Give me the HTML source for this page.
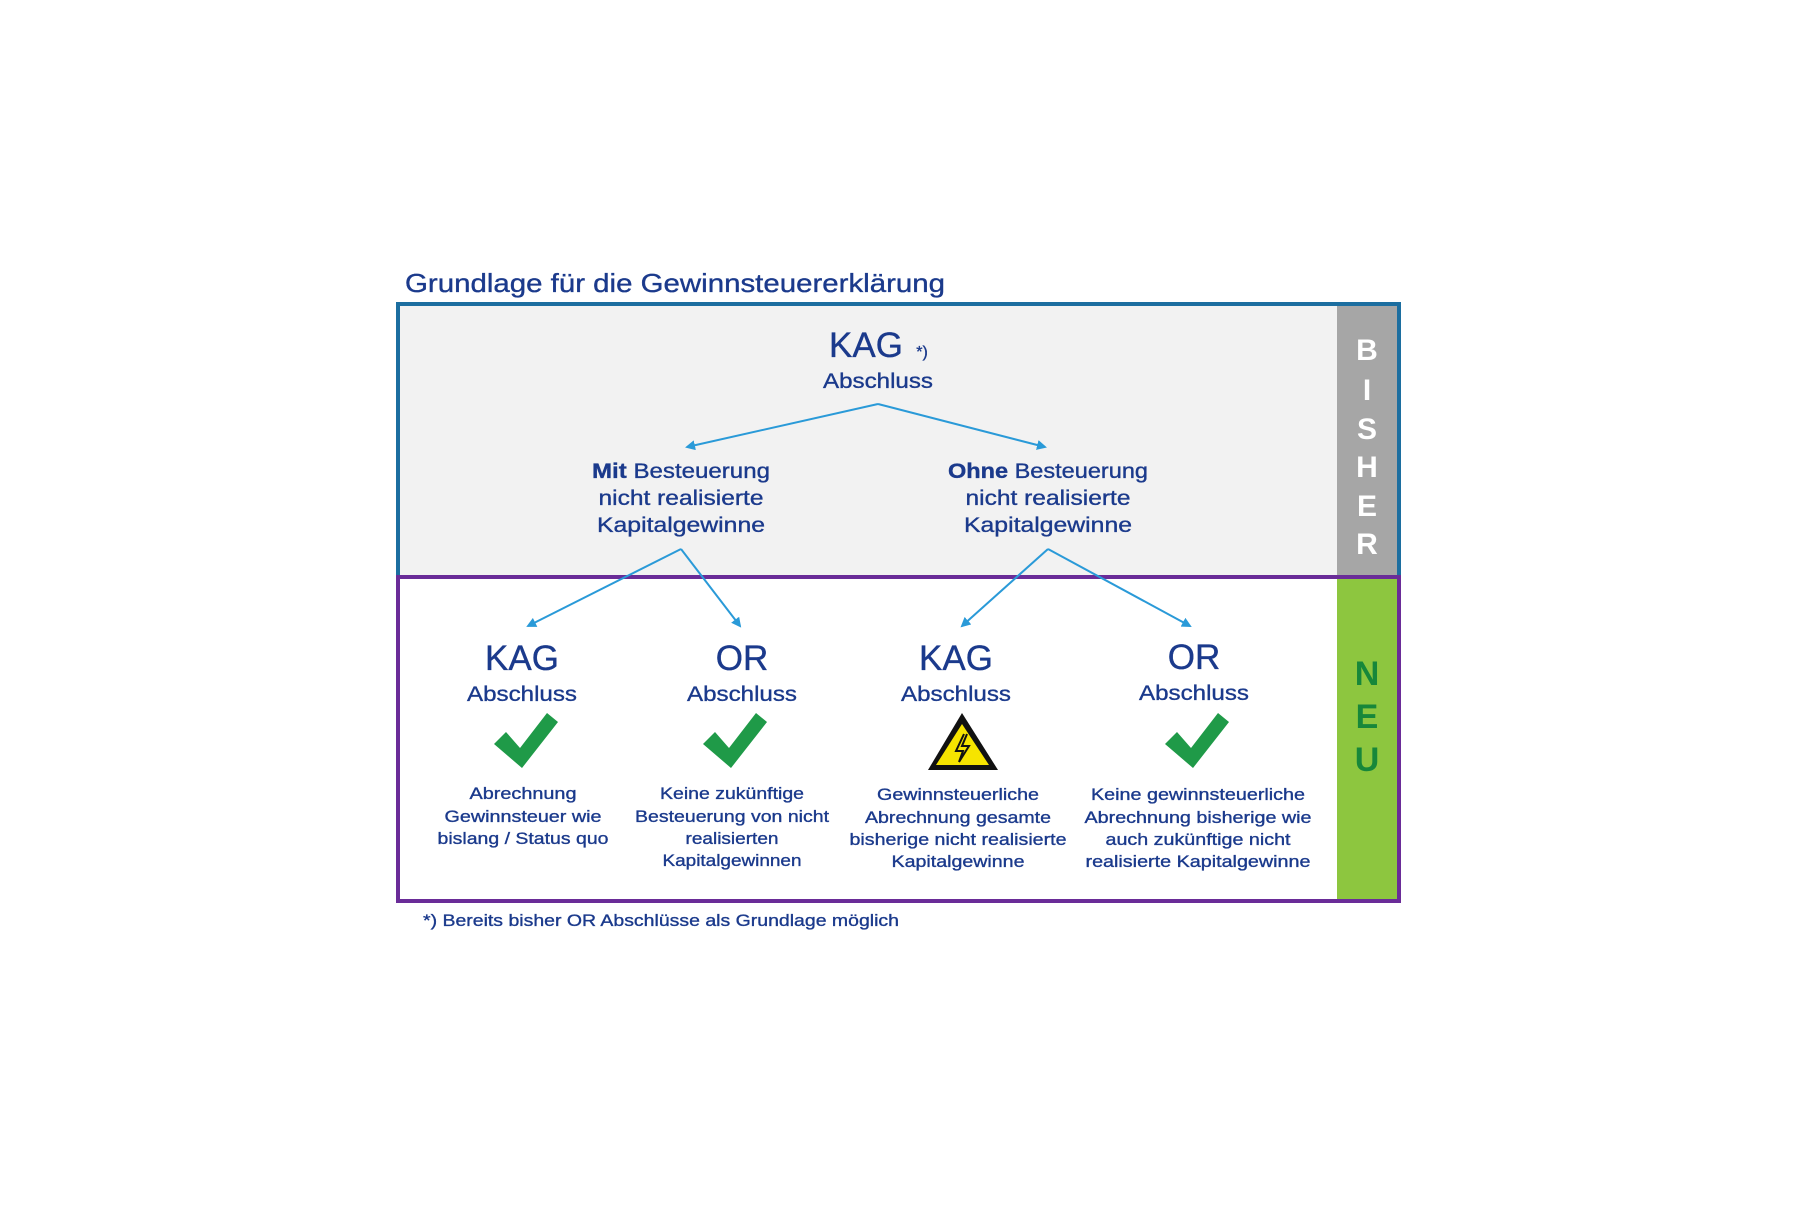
<!DOCTYPE html>
<html><head><meta charset="utf-8"><style>
html,body{margin:0;padding:0;background:#fff;}
svg text{font-family:"Liberation Sans",sans-serif;fill:#1b3a8c;stroke:#1b3a8c;stroke-width:0.35;}
</style></head><body>
<svg width="1800" height="1200" viewBox="0 0 1800 1200" xmlns="http://www.w3.org/2000/svg">
<defs>
<marker id="a" markerWidth="10" markerHeight="10" refX="8" refY="5" orient="auto" markerUnits="userSpaceOnUse">
<path d="M0,0 L10,5 L0,10 z" fill="#2a9ad8"/></marker>
</defs>
<text x="405" y="292" font-size="26" textLength="540" lengthAdjust="spacingAndGlyphs">Grundlage für die Gewinnsteuererklärung</text>
<rect x="398" y="304" width="1000" height="272" fill="#f2f2f2"/>
<rect x="1337" y="304" width="61" height="272" fill="#a6a6a6"/>
<rect x="1337" y="578" width="61" height="321" fill="#8dc63f"/>
<path d="M398,576 V304 H1399 V576" fill="none" stroke="#1c6ea0" stroke-width="4"/>
<path d="M398,577 H1399 V901 H398 Z" fill="none" stroke="#6a2c98" stroke-width="4"/>
<g font-weight="bold" font-size="30" text-anchor="middle">
<text x="1367" y="360" style="fill:#fff;stroke:none">B</text><text x="1367" y="400" style="fill:#fff;stroke:none">I</text><text x="1367" y="439" style="fill:#fff;stroke:none">S</text><text x="1367" y="477" style="fill:#fff;stroke:none">H</text><text x="1367" y="516" style="fill:#fff;stroke:none">E</text><text x="1367" y="554" style="fill:#fff;stroke:none">R</text>
</g>
<g font-weight="bold" font-size="34" text-anchor="middle">
<text x="1367" y="685" style="fill:#17873a;stroke:none">N</text><text x="1367" y="728" style="fill:#17873a;stroke:none">E</text><text x="1367" y="771" style="fill:#17873a;stroke:none">U</text>
</g>
<text x="866" y="357" font-size="35" text-anchor="middle">KAG</text>
<text x="922" y="357" font-size="16" text-anchor="middle">*)</text>
<text x="878" y="388" font-size="21" text-anchor="middle" textLength="110" lengthAdjust="spacingAndGlyphs">Abschluss</text>
<g stroke="#2a9ad8" stroke-width="2" fill="none">
<line x1="878" y1="404" x2="687" y2="447" marker-end="url(#a)"/>
<line x1="878" y1="404" x2="1045" y2="447" marker-end="url(#a)"/>
<line x1="681" y1="549" x2="528" y2="626" marker-end="url(#a)"/>
<line x1="681" y1="549" x2="740" y2="626" marker-end="url(#a)"/>
<line x1="1048" y1="549" x2="962" y2="626" marker-end="url(#a)"/>
<line x1="1048" y1="549" x2="1190" y2="626" marker-end="url(#a)"/>
</g>
<g font-size="21" text-anchor="middle">
<text x="681" y="478" textLength="178" lengthAdjust="spacingAndGlyphs"><tspan font-weight="bold">Mit</tspan> Besteuerung</text>
<text x="681" y="505" textLength="165" lengthAdjust="spacingAndGlyphs">nicht realisierte</text>
<text x="681" y="532" textLength="168" lengthAdjust="spacingAndGlyphs">Kapitalgewinne</text>
<text x="1048" y="478" textLength="200" lengthAdjust="spacingAndGlyphs"><tspan font-weight="bold">Ohne</tspan> Besteuerung</text>
<text x="1048" y="505" textLength="165" lengthAdjust="spacingAndGlyphs">nicht realisierte</text>
<text x="1048" y="532" textLength="168" lengthAdjust="spacingAndGlyphs">Kapitalgewinne</text>
</g>
<g text-anchor="middle">
<text x="522" y="670" font-size="35">KAG</text><text x="522" y="701" font-size="21" textLength="110" lengthAdjust="spacingAndGlyphs">Abschluss</text>
<text x="742" y="670" font-size="35">OR</text><text x="742" y="701" font-size="21" textLength="110" lengthAdjust="spacingAndGlyphs">Abschluss</text>
<text x="956" y="670" font-size="35">KAG</text><text x="956" y="701" font-size="21" textLength="110" lengthAdjust="spacingAndGlyphs">Abschluss</text>
<text x="1194" y="669" font-size="35">OR</text><text x="1194" y="700" font-size="21" textLength="110" lengthAdjust="spacingAndGlyphs">Abschluss</text>
</g>
<g fill="#1f9a48">
<path d="M494,744 L506,732 L520,748 L547,713 L558,722 L522,768 Z"/>
<path d="M703,744 L715,732 L729,748 L756,713 L767,722 L731,768 Z"/>
<path d="M1165,744 L1177,732 L1191,748 L1218,713 L1229,722 L1193,768 Z"/>
</g>
<path d="M962,713 L998,770 L928,770 Z" fill="#111"/>
<path d="M962,724 L989,765 L936,765 Z" fill="#f6e400"/>
<path d="M964,734 L956,751 L963,751 L959,762 L969,746 L962,746 L967,734" fill="none" stroke="#111" stroke-width="2"/>
<g font-size="17" text-anchor="middle">
<text x="523" y="799" textLength="107" lengthAdjust="spacingAndGlyphs">Abrechnung</text><text x="523" y="822" textLength="157" lengthAdjust="spacingAndGlyphs">Gewinnsteuer wie</text><text x="523" y="844" textLength="171" lengthAdjust="spacingAndGlyphs">bislang / Status quo</text>
<text x="732" y="799" textLength="144" lengthAdjust="spacingAndGlyphs">Keine zukünftige</text><text x="732" y="822" textLength="194" lengthAdjust="spacingAndGlyphs">Besteuerung von nicht</text><text x="732" y="844" textLength="93" lengthAdjust="spacingAndGlyphs">realisierten</text><text x="732" y="866" textLength="139" lengthAdjust="spacingAndGlyphs">Kapitalgewinnen</text>
<text x="958" y="800" textLength="162" lengthAdjust="spacingAndGlyphs">Gewinnsteuerliche</text><text x="958" y="823" textLength="186" lengthAdjust="spacingAndGlyphs">Abrechnung gesamte</text><text x="958" y="845" textLength="217" lengthAdjust="spacingAndGlyphs">bisherige nicht realisierte</text><text x="958" y="867" textLength="133" lengthAdjust="spacingAndGlyphs">Kapitalgewinne</text>
<text x="1198" y="800" textLength="214" lengthAdjust="spacingAndGlyphs">Keine gewinnsteuerliche</text><text x="1198" y="823" textLength="227" lengthAdjust="spacingAndGlyphs">Abrechnung bisherige wie</text><text x="1198" y="845" textLength="185" lengthAdjust="spacingAndGlyphs">auch zukünftige nicht</text><text x="1198" y="867" textLength="225" lengthAdjust="spacingAndGlyphs">realisierte Kapitalgewinne</text>
</g>
<text x="423" y="926" font-size="17" textLength="476" lengthAdjust="spacingAndGlyphs">*) Bereits bisher OR Abschlüsse als Grundlage möglich</text>
</svg>
</body></html>
